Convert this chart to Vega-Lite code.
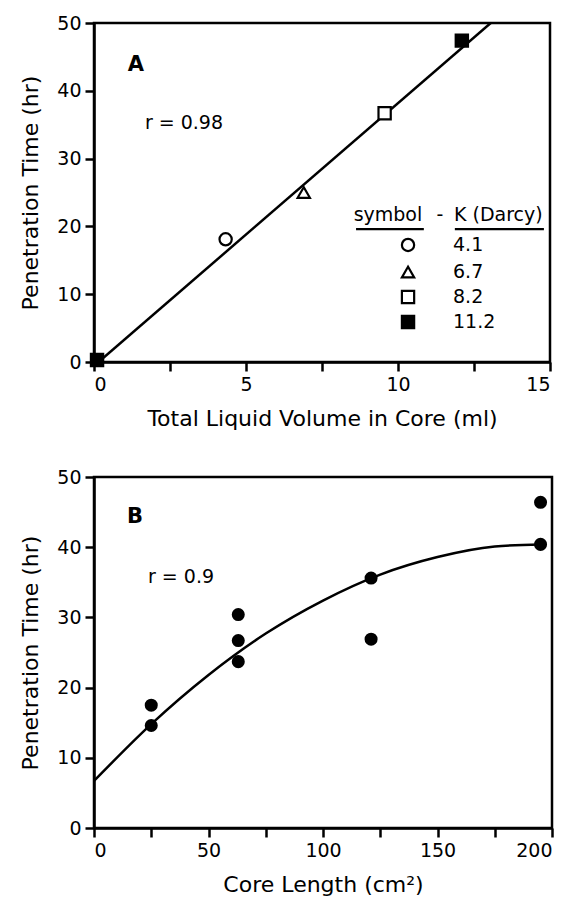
{
  "$schema": "https://vega.github.io/schema/vega-lite/v6.json",
  "background": "white",
  "padding": {"left": 18, "top": 12, "right": 10, "bottom": 5},
  "config": {
    "view": {"stroke": "black", "strokeWidth": 2.5},
    "font": "DejaVu Sans",
    "axis": {"domainColor": "black", "domainWidth": 2.5, "tickColor": "black", "tickWidth": 2.5, "tickSize": 9, "labelColor": "black", "labelFontSize": 19, "titleColor": "black", "titleFontSize": 22, "titleFontWeight": "normal", "grid": false, "labelPadding": 4, "titlePadding": 14},
    "concat": {"spacing": 35}
  },
  "vconcat": [
    {
      "width": 456,
      "height": 339,
      "layer": [
        {
          "data": {"values": [{"vol": 0.15, "time": 0}, {"vol": 13.05, "time": 50}]},
          "mark": {"type": "line", "color": "black", "strokeWidth": 2.5, "clip": true},
          "encoding": {
            "x": {"field": "vol", "type": "quantitative", "scale": {"domain": [0, 15], "nice": false},
                  "axis": {"title": "Total Liquid Volume in Core (ml)", "values": [0, 2.5, 5, 7.5, 10, 12.5, 15], "labelExpr": "datum.value % 5 === 0 ? format(datum.value, 'd') : ''"}},
            "y": {"field": "time", "type": "quantitative", "scale": {"domain": [0, 50], "nice": false},
                  "axis": {"title": "Penetration Time (hr)", "values": [0, 5, 10, 15, 20, 25, 30, 35, 40, 45, 50], "labelExpr": "datum.value % 10 === 0 ? format(datum.value, 'd') : ''"}}
          }
        },
        {
          "data": {"values": [
            {"vol": 0.1, "time": 0.3, "K": "11.2"},
            {"vol": 4.33, "time": 18.1, "K": "4.1"},
            {"vol": 6.9, "time": 25.0, "K": "6.7"},
            {"vol": 9.56, "time": 36.7, "K": "8.2"},
            {"vol": 12.1, "time": 47.4, "K": "11.2"},
            {"vol": 10.33, "time": 17.26, "K": "4.1"},
            {"vol": 10.33, "time": 13.27, "K": "6.7"},
            {"vol": 10.33, "time": 9.59, "K": "8.2"},
            {"vol": 10.33, "time": 5.9, "K": "11.2"}
          ]},
          "mark": {"type": "point", "filled": true, "stroke": "black", "strokeWidth": 2.2, "opacity": 1, "size": 150},
          "encoding": {
            "x": {"field": "vol", "type": "quantitative"},
            "y": {"field": "time", "type": "quantitative"},
            "shape": {"field": "K", "type": "nominal",
                      "scale": {"domain": ["4.1", "6.7", "8.2", "11.2"], "range": ["circle", "triangle-up", "square", "square"]},
                      "legend": null},
            "fill": {"field": "K", "type": "nominal",
                     "scale": {"domain": ["4.1", "6.7", "8.2", "11.2"], "range": ["white", "white", "white", "black"]},
                     "legend": null}
          }
        },
        {
          "data": {"values": [
            {"label": "4.1", "vol": 11.81, "time": 17.26},
            {"label": "6.7", "vol": 11.81, "time": 13.27},
            {"label": "8.2", "vol": 11.81, "time": 9.59},
            {"label": "11.2", "vol": 11.81, "time": 5.9}
          ]},
          "mark": {"type": "text", "fontSize": 19, "color": "black", "align": "left"},
          "encoding": {"x": {"field": "vol", "type": "quantitative"}, "y": {"field": "time", "type": "quantitative"}, "text": {"field": "label"}}
        },
        {
          "data": {"values": [{"label": "A", "vol": 1.38, "time": 43.8}]},
          "mark": {"type": "text", "fontSize": 21, "fontWeight": "bold", "color": "black"},
          "encoding": {"x": {"field": "vol", "type": "quantitative"}, "y": {"field": "time", "type": "quantitative"}, "text": {"field": "label"}}
        },
        {
          "data": {"values": [
            {"label": "r = 0.98", "vol": 2.96, "time": 35.2},
            {"label": "symbol", "vol": 9.67, "time": 21.7},
            {"label": "-", "vol": 11.38, "time": 21.7},
            {"label": "K (Darcy)", "vol": 13.3, "time": 21.7}
          ]},
          "mark": {"type": "text", "fontSize": 19, "color": "black"},
          "encoding": {"x": {"field": "vol", "type": "quantitative"}, "y": {"field": "time", "type": "quantitative"}, "text": {"field": "label"}}
        },
        {
          "data": {"values": [
            {"from": 8.62, "to": 10.85, "time": 19.6},
            {"from": 11.87, "to": 14.8, "time": 19.6}
          ]},
          "mark": {"type": "rule", "color": "black", "strokeWidth": 2.2},
          "encoding": {"x": {"field": "from", "type": "quantitative"}, "x2": {"field": "to"}, "y": {"field": "time", "type": "quantitative"}}
        }
      ]
    },
    {
      "width": 458,
      "height": 351,
      "layer": [
        {
          "data": {"values": [
            {"len": 0, "time": 6.7}, {"len": 25, "time": 14.8}, {"len": 50, "time": 21.8}, {"len": 75, "time": 27.7},
            {"len": 100, "time": 32.4}, {"len": 125, "time": 36.1}, {"len": 150, "time": 38.6},
            {"len": 175, "time": 40.1}, {"len": 195, "time": 40.4}
          ]},
          "mark": {"type": "line", "color": "black", "strokeWidth": 2.5, "interpolate": "monotone"},
          "encoding": {
            "x": {"field": "len", "type": "quantitative", "scale": {"domain": [0, 200], "nice": false},
                  "axis": {"title": "Core Length (cm²)", "values": [0, 25, 50, 75, 100, 125, 150, 175, 200], "labelExpr": "datum.value % 50 === 0 ? format(datum.value, 'd') : ''"}},
            "y": {"field": "time", "type": "quantitative", "scale": {"domain": [0, 50], "nice": false},
                  "axis": {"title": "Penetration Time (hr)", "values": [0, 5, 10, 15, 20, 25, 30, 35, 40, 45, 50], "labelExpr": "datum.value % 10 === 0 ? format(datum.value, 'd') : ''"}}
          }
        },
        {
          "data": {"values": [
            {"len": 25, "time": 17.5}, {"len": 25, "time": 14.6},
            {"len": 63, "time": 30.4}, {"len": 63, "time": 26.7}, {"len": 63, "time": 23.7},
            {"len": 121, "time": 35.6}, {"len": 121, "time": 26.9},
            {"len": 195, "time": 46.4}, {"len": 195, "time": 40.4}
          ]},
          "mark": {"type": "circle", "color": "black", "opacity": 1, "size": 170},
          "encoding": {"x": {"field": "len", "type": "quantitative"}, "y": {"field": "time", "type": "quantitative"}}
        },
        {
          "data": {"values": [{"label": "B", "len": 17.9, "time": 44.3}]},
          "mark": {"type": "text", "fontSize": 21, "fontWeight": "bold", "color": "black"},
          "encoding": {"x": {"field": "len", "type": "quantitative"}, "y": {"field": "time", "type": "quantitative"}, "text": {"field": "label"}}
        },
        {
          "data": {"values": [{"label": "r = 0.9", "len": 38.0, "time": 35.8}]},
          "mark": {"type": "text", "fontSize": 19, "color": "black"},
          "encoding": {"x": {"field": "len", "type": "quantitative"}, "y": {"field": "time", "type": "quantitative"}, "text": {"field": "label"}}
        }
      ]
    }
  ]
}
